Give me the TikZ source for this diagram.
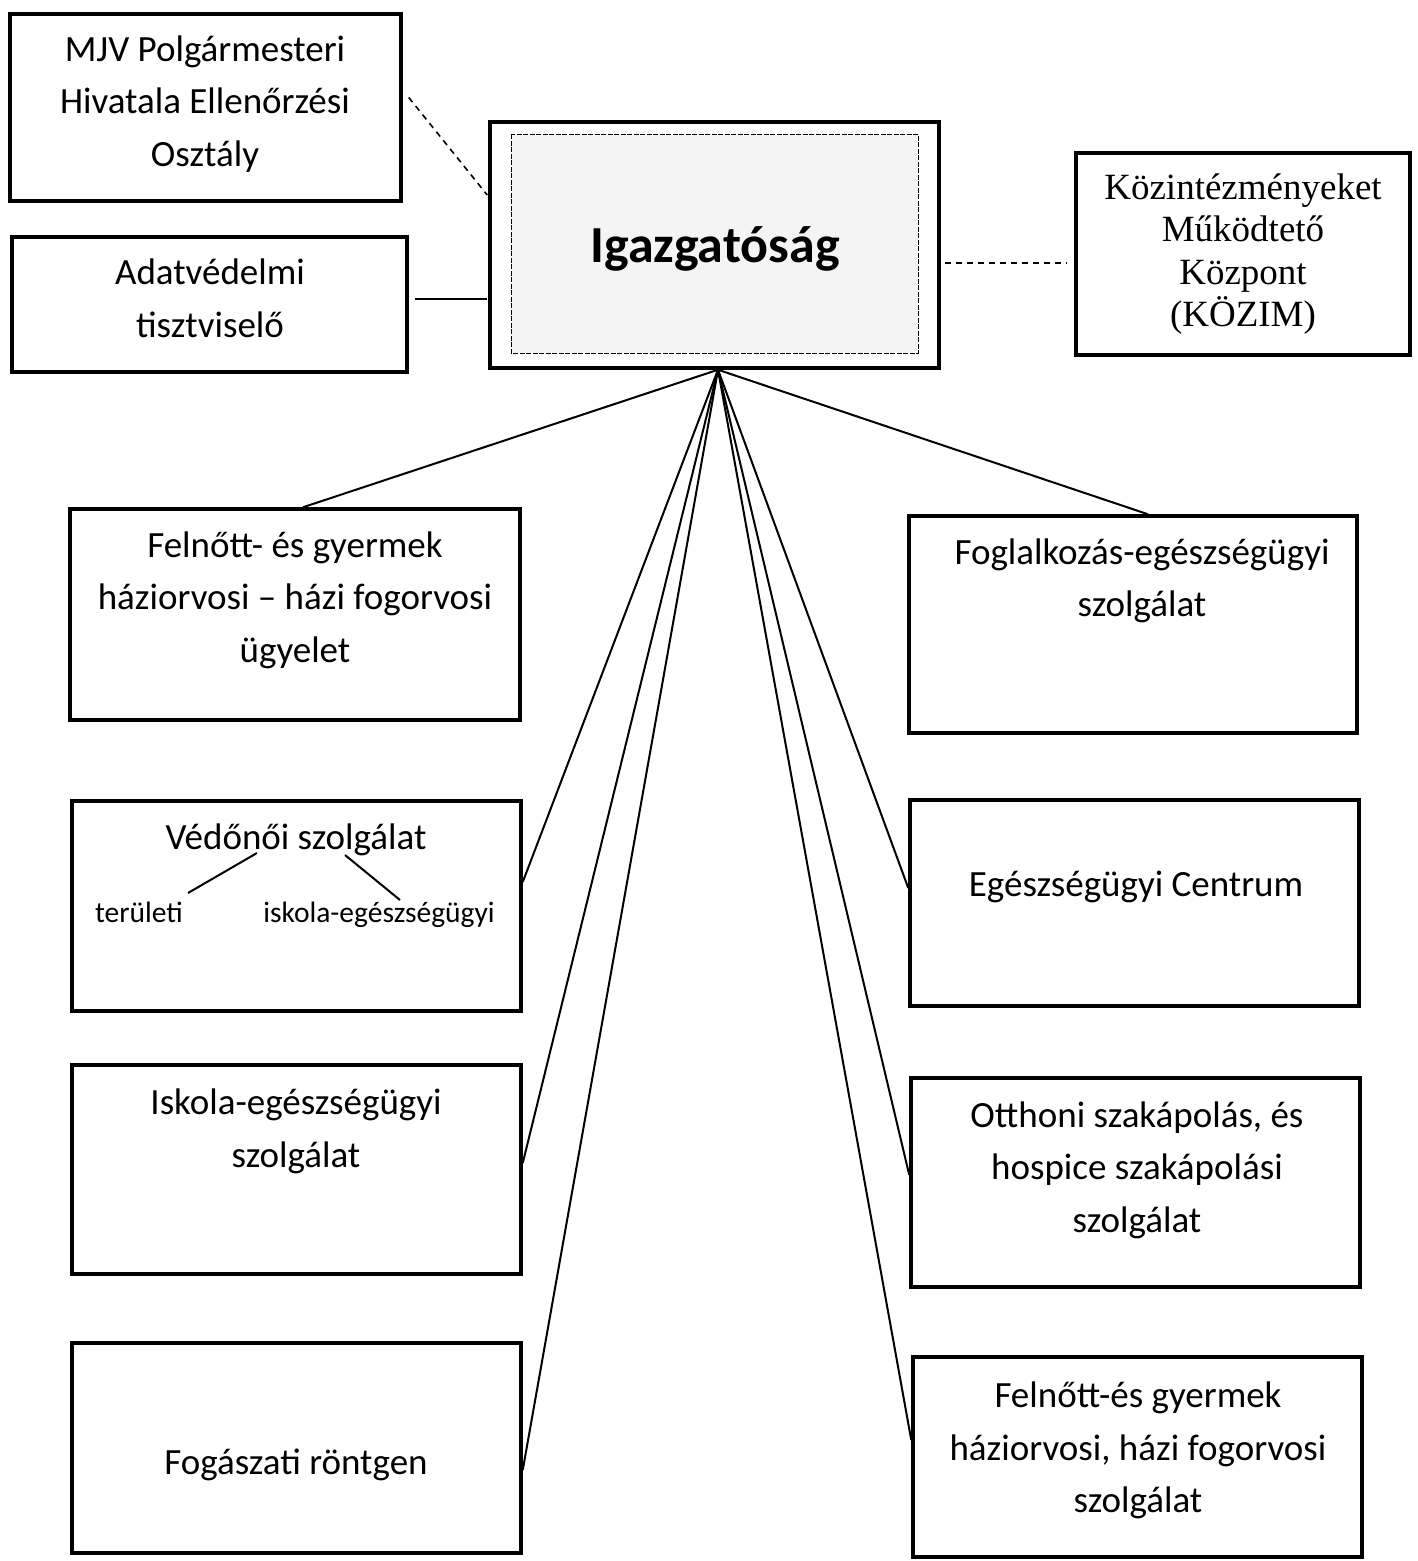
\documentclass[tikz,border=0pt]{standalone}
\usepackage{fontspec}
\setmainfont{Carlito}
\newfontfamily\serifT{Liberation Serif}
\usetikzlibrary{calc}
\begin{document}
\begin{tikzpicture}[x=1pt,y=-1pt,
  box/.style={draw, line width=3.5pt, inner sep=0pt},
  txt/.style={align=center, inner sep=0pt, font=\fontsize{37}{52.5}\selectfont},
  small/.style={inner sep=0pt, font=\fontsize{29.5}{35}\selectfont},
  conn/.style={line width=2pt},
  dconn/.style={line width=1.6pt, dash pattern=on 6pt off 5pt}]
\useasboundingbox (0,0) rectangle (1418,1561);
% boxes
\node[box, minimum width=391pt, minimum height=187pt] (mjv) at (205.5,107.5) {};
\node[box, minimum width=395pt, minimum height=135pt] (adat) at (209.5,304.5) {};
\node[box, minimum width=449pt, minimum height=246pt] (igaz) at (714.5,245) {};
\node[box, minimum width=334pt, minimum height=202pt] (kozim) at (1243,254) {};
\node[box, minimum width=450pt, minimum height=211pt] (felnott) at (295,614.5) {};
\node[box, minimum width=448pt, minimum height=217pt] (fogl) at (1133,624.5) {};
\node[box, minimum width=449pt, minimum height=210pt] (vedo) at (296.5,906) {};
\node[box, minimum width=449pt, minimum height=206pt] (centrum) at (1134.5,903) {};
\node[box, minimum width=449pt, minimum height=209pt] (iskola) at (296.5,1169.5) {};
\node[box, minimum width=449pt, minimum height=209pt] (otthoni) at (1135.5,1182.5) {};
\node[box, minimum width=449pt, minimum height=210pt] (fogaszat) at (296.5,1448) {};
\node[box, minimum width=449pt, minimum height=200pt] (haziorv) at (1137.5,1457) {};
% inner frame of Igazgatosag
\fill[gray!9] (511,134) rectangle (918,353);
\draw[line width=1pt, dash pattern=on 5pt off 1.5pt] (511,134) rectangle (918,353);
% texts
\node[txt] (tmjv) at (205,104) {MJV Polgármesteri\\Hivatala Ellenőrzési\\Osztály};
\node[txt] (tadat) at (210,298.5) {Adatvédelmi\\tisztviselő};
\node[inner sep=0pt, font=\fontsize{52}{60}\selectfont\bfseries] (tigaz) at (715,249) {Igazgatóság};
\node[align=center, inner sep=0pt, font=\serifT\fontsize{37}{42.3}\selectfont] (tkozim) at (1243,254) {Közintézményeket\\Működtető\\Központ\\(KÖZIM)};
\node[txt] (tfelnott) at (295,600) {Felnőtt- és gyermek\\háziorvosi – házi fogorvosi\\ügyelet};
\node[txt] (tfogl) at (1142,581) {Foglalkozás-egészségügyi\\szolgálat};
\node[txt] (tvedo) at (296,840) {Védőnői szolgálat};
\node[small] (terul) at (139,912) {területi};
\node[small] (tisk) at (379,915) {iskola-egészségügyi};
\node[txt] (tcentrum) at (1136,887) {Egészségügyi Centrum};
\node[txt] (tiskola) at (296,1131.5) {Iskola-egészségügyi\\szolgálat};
\node[txt] (totthoni) at (1137,1170) {Otthoni szakápolás, és\\hospice szakápolási\\szolgálat};
\node[txt] (tfogaszat) at (296,1465) {Fogászati röntgen};
\node[txt] (thaziorv) at (1138,1450.5) {Felnőtt-és gyermek\\háziorvosi, házi fogorvosi\\szolgálat};
% sub connectors in Vedonoi box
\coordinate (vl1) at (188,893);
\coordinate (vl2) at (257,853);
\coordinate (vr1) at (345,855);
\coordinate (vr2) at (400,900);
\draw[conn] (vl1) -- (vl2);
\draw[conn] (vr1) -- (vr2);
% side connectors
\draw[dconn] ($(mjv.east)+(6,-10)$) -- ($(igaz.west)+(-1,-50)$);
\draw[conn] ($(adat.east)+(6,-5.5)$) -- ($(igaz.west)+(-1,54)$);
\draw[dconn] ($(igaz.east)+(4,18)$) -- ($(kozim.west)+(-8,9)$);
% fan connectors
\coordinate (apex) at ($(igaz.south)+(3.5,0)$);
\draw[conn] (apex) -- ($(felnott.north)+(8,0)$);
\draw[conn] (apex) -- ($(fogl.north)+(15,0)$);
\draw[conn] (apex) -- ($(vedo.east)+(0,-24)$);
\draw[conn] (apex) -- ($(iskola.east)+(0,-6.5)$);
\draw[conn] (apex) -- ($(fogaszat.east)+(0,22)$);
\draw[conn] (apex) -- ($(centrum.west)+(0,-15)$);
\draw[conn] (apex) -- ($(otthoni.west)+(0,-7.5)$);
\draw[conn] (apex) -- ($(haziorv.west)+(0,-17)$);
\end{tikzpicture}
\end{document}
